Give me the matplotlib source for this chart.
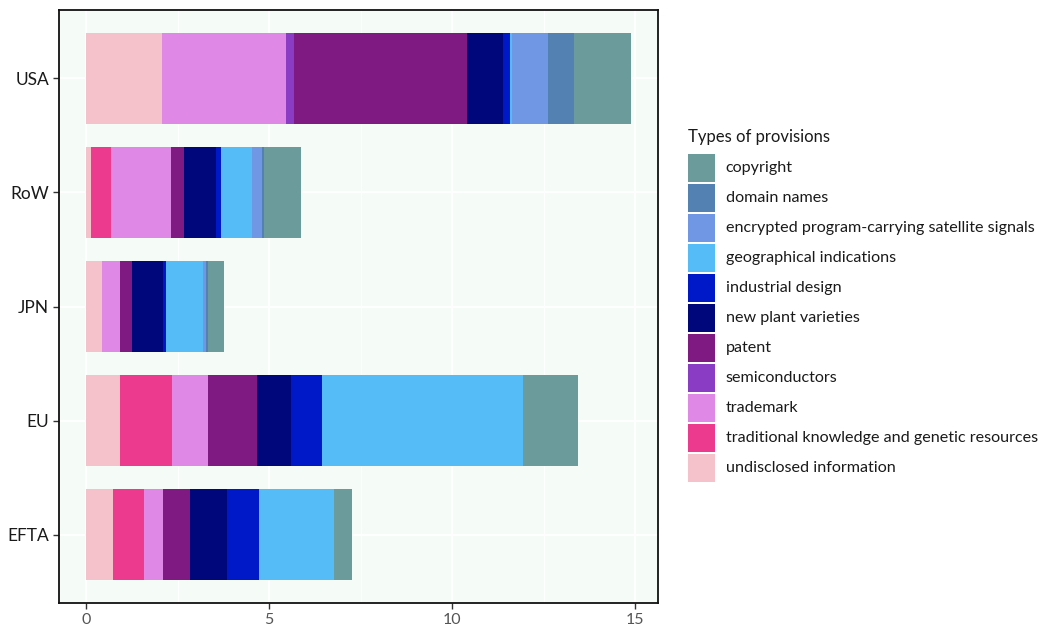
import matplotlib
matplotlib.use("Agg")
import matplotlib.pyplot as plt
from matplotlib.patches import Rectangle
import numpy as np

plt.rcParams['font.family'] = ['Lato', 'DejaVu Sans']

regions = ["USA", "RoW", "JPN", "EU", "EFTA"]

# provision types, in stacking order (left to right)
provisions = [
    "undisclosed information",
    "traditional knowledge and genetic resources",
    "trademark",
    "semiconductors",
    "patent",
    "new plant varieties",
    "industrial design",
    "geographical indications",
    "encrypted program-carrying satellite signals",
    "domain names",
    "copyright",
]

# values per region (USA, RoW, JPN, EU, EFTA)
undisclosed_information = [2.07, 0.14, 0.43, 0.93, 0.72]
traditional_knowledge = [0.00, 0.53, 0.00, 1.42, 0.85]
trademark = [3.39, 1.66, 0.50, 0.99, 0.54]
semiconductors = [0.21, 0.00, 0.00, 0.00, 0.00]
patent = [4.73, 0.34, 0.33, 1.34, 0.73]
new_plant_varieties = [0.99, 0.88, 0.83, 0.92, 1.00]
industrial_design = [0.19, 0.14, 0.10, 0.83, 0.88]
geographical_indications = [0.05, 0.85, 1.00, 5.51, 2.05]
encrypted_signals = [0.98, 0.26, 0.07, 0.00, 0.00]
domain_names = [0.73, 0.06, 0.08, 0.00, 0.00]
copyright = [1.54, 1.01, 0.43, 1.49, 0.50]

series = [
    undisclosed_information, traditional_knowledge, trademark, semiconductors,
    patent, new_plant_varieties, industrial_design, geographical_indications,
    encrypted_signals, domain_names, copyright,
]

colors = {
    "undisclosed information": "#F5C1CA",
    "traditional knowledge and genetic resources": "#EC3A8E",
    "trademark": "#DF88E6",
    "semiconductors": "#8A3CC4",
    "patent": "#7E1A82",
    "new plant varieties": "#00077A",
    "industrial design": "#0019C8",
    "geographical indications": "#55BCF7",
    "encrypted program-carrying satellite signals": "#7097E3",
    "domain names": "#5281B2",
    "copyright": "#6B9B9B",
}

fig = plt.figure(figsize=(10.38, 6.28), dpi=100)
W, H = 1038, 628
ax_left, ax_right, ax_top, ax_bottom = 59, 658, 10, 603
ax = fig.add_axes([ax_left / W, 1 - ax_bottom / H, (ax_right - ax_left) / W, (ax_bottom - ax_top) / H])

bg = "#F5FCF8"
ax.set_facecolor(bg)

ypos = np.arange(len(regions))  # USA at top
left = np.zeros(len(regions))
for name, vals in zip(provisions, series):
    v = np.array(vals)
    ax.barh(ypos, v, left=left, height=0.8, color=colors[name], edgecolor="none", zorder=3)
    left += v

totals = left
xmax = totals.max()
pad = 0.05 * xmax
ax.set_xlim(-pad, xmax + pad)
ax.set_ylim(len(regions) - 0.4, -0.6)

ax.set_yticks(ypos)
ax.set_yticklabels(regions)
ax.set_xticks([0, 5, 10, 15])
ax.set_xticks([2.5, 7.5, 12.5], minor=True)

ax.grid(True, which="major", color="white", linewidth=1.4, zorder=0)
ax.grid(True, which="minor", axis="x", color="white", linewidth=0.7, zorder=0)
ax.set_axisbelow(True)

for s in ax.spines.values():
    s.set_color("#111111")
    s.set_linewidth(1.3)

ax.tick_params(axis="both", which="major", length=4, width=1, color="#333333",
               labelsize=11.5, labelcolor="#555555", pad=3)
ax.tick_params(axis="y", labelcolor="#1A1A1A", labelsize=12.5)
ax.tick_params(axis="x", which="minor", length=0)

# legend (reverse order like ggplot), drawn in figure pixel positions
def fx(px):
    return px / W

def fy(py):
    return 1 - py / H

fig.text(fx(688), fy(137), "Types of provisions", ha="left", va="center",
         fontsize=12, color="#1A1A1A")
key_x, key_w, key_h, pitch, top0 = 688, 27, 28, 30, 154.3
for i, name in enumerate(provisions[::-1]):
    top = top0 + i * pitch
    fig.add_artist(Rectangle((fx(key_x), fy(top + key_h)), key_w / W, key_h / H,
                             transform=fig.transFigure, facecolor=colors[name],
                             edgecolor="none"))
    fig.text(fx(725.5), fy(top + key_h / 2), name, ha="left", va="center",
             fontsize=11.6, color="#1A1A1A")

fig.savefig("out.png", dpi=100, facecolor="white")
